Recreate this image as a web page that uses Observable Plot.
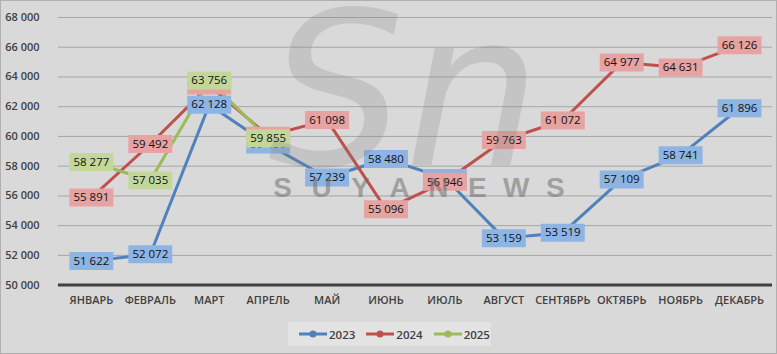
<!DOCTYPE html>
<html><head><meta charset="utf-8">
<script src="https://cdn.jsdelivr.net/npm/d3@7"></script>
<script src="https://cdn.jsdelivr.net/npm/@observablehq/plot@0.6"></script>
<style>
body{margin:0;background:#fff;}
#wrap{position:relative;width:777px;height:354px;background:#d9d9d9;box-sizing:border-box;border:1px solid #b0b0b0;overflow:hidden;font-family:"Open Sans","Liberation Sans",sans-serif;}
#chart{position:absolute;left:-1px;top:-1px;}
#legend{position:absolute;left:287px;top:321px;width:203px;height:24px;background:#e3e3e3;display:flex;align-items:center;font-size:11.5px;font-weight:600;color:#404040;}
#legend span.it{display:flex;align-items:center;margin-left:10px;}
#legend svg{margin-right:1px;}
</style></head>
<body>
<div id="wrap"><div id="chart"></div><div id="legend"></div></div>
<script>
const months = ["ЯНВАРЬ","ФЕВРАЛЬ","МАРТ","АПРЕЛЬ","МАЙ","ИЮНЬ","ИЮЛЬ","АВГУСТ","СЕНТЯБРЬ","ОКТЯБРЬ","НОЯБРЬ","ДЕКАБРЬ"];
const v2023 = [51622,52072,62128,59450,57239,58480,57200,53159,53519,57109,58741,61896];
const v2024 = [55891,59492,63420,60050,61098,55096,56946,59763,61072,64977,64631,66126];
const v2025 = [58277,57035,63756,59855];
const yTicks = [50000,52000,54000,56000,58000,60000,62000,64000,66000,68000];
const seriesNames = ["2023","2024","2025"];
const lineColors = ["#4f81bd","#c0504d","#9bbb59"];
const labelColors = ["#8eb4e3","#e6a3a1","#c4d79b"];

const series = [v2023, v2024, v2025].map((vals, i) =>
  vals.map((v, j) => ({month: months[j], value: v, year: seriesNames[i]})));

const fmt = v => d3.format(",")(v).replace(/,/g, " ");
const boxSymbol = {draw(ctx){ ctx.rect(-22, -9, 44, 18); }};

// the 2024 March label sits underneath the others in the reference
const isBack = d => d.year === "2024" && d.month === "МАРТ";

const marks = [
  Plot.ruleY(yTicks.filter(t => t > 50000), {stroke: "#a6a6a6", strokeWidth: 1}),
  Plot.ruleY([50000], {stroke: "#404040", strokeWidth: 3}),
  Plot.axisY({ticks: yTicks, tickSize: 0, tickPadding: 19, tickFormat: fmt, fontSize: 11, fill: "#404040", fontWeight: 600, label: null}),
  Plot.axisX({tickSize: 0, tickPadding: 11, fontSize: 11, fill: "#404040", fontWeight: 600, label: null})
];
series.forEach((d, i) => {
  marks.push(Plot.line(d, {x: "month", y: "value", stroke: lineColors[i], strokeWidth: 3}));
  marks.push(Plot.dot(d, {x: "month", y: "value", r: 8.5, fill: lineColors[i], stroke: "none"}));
});
const labelMarks = (d, i, filter) => [
  Plot.dot(d, {x: "month", y: "value", symbol: boxSymbol, fill: labelColors[i], stroke: "none", filter}),
  Plot.text(d, {x: "month", y: "value", text: r => fmt(r.value), fontSize: 11.5, fill: "#111", filter})
];
series.forEach((d, i) => marks.push(...labelMarks(d, i, isBack)));
series.forEach((d, i) => marks.push(...labelMarks(d, i, r => !isBack(r))));

const chart = Plot.plot({
  width: 777, height: 354,
  marginLeft: 58, marginRight: 4, marginTop: 17, marginBottom: 69,
  style: {background: "transparent", fontFamily: "Open Sans, Liberation Sans, sans-serif"},
  x: {type: "point", domain: months, padding: 0.5, axis: null},
  y: {domain: [50000, 68000], axis: null},
  marks
});
document.getElementById("chart").appendChild(chart);

// watermark overlay (semi-transparent)
const svg = d3.select(chart);
const wm = svg.append("g").attr("pointer-events", "none");
wm.append("text").attr("x", 405).attr("y", 165).attr("text-anchor", "middle")
  .attr("font-family", "DejaVu Sans, sans-serif").attr("font-style", "italic")
  .attr("font-size", 215).attr("fill", "#7a7a7a").attr("fill-opacity", 0.22).text("Sn");
const letters = "SUYANEWS".split("");
letters.forEach((c, k) => {
  wm.append("text").attr("x", 283 + k * 39).attr("y", 197).attr("text-anchor", "middle")
    .attr("font-family", "Liberation Sans, sans-serif").attr("font-weight", "bold")
    .attr("font-size", 28).attr("fill", "#6e6e6e").attr("fill-opacity", 0.55).text(c);
});

// legend
const lg = document.getElementById("legend");
seriesNames.forEach((name, i) => {
  const s = document.createElement("span");
  s.className = "it";
  s.innerHTML = `<svg width="30" height="10"><line x1="1" y1="5" x2="29" y2="5" stroke="${lineColors[i]}" stroke-width="3"/><circle cx="15" cy="5" r="3.5" fill="${lineColors[i]}"/></svg>${name}`;
  lg.appendChild(s);
});
</script>
</body></html>
